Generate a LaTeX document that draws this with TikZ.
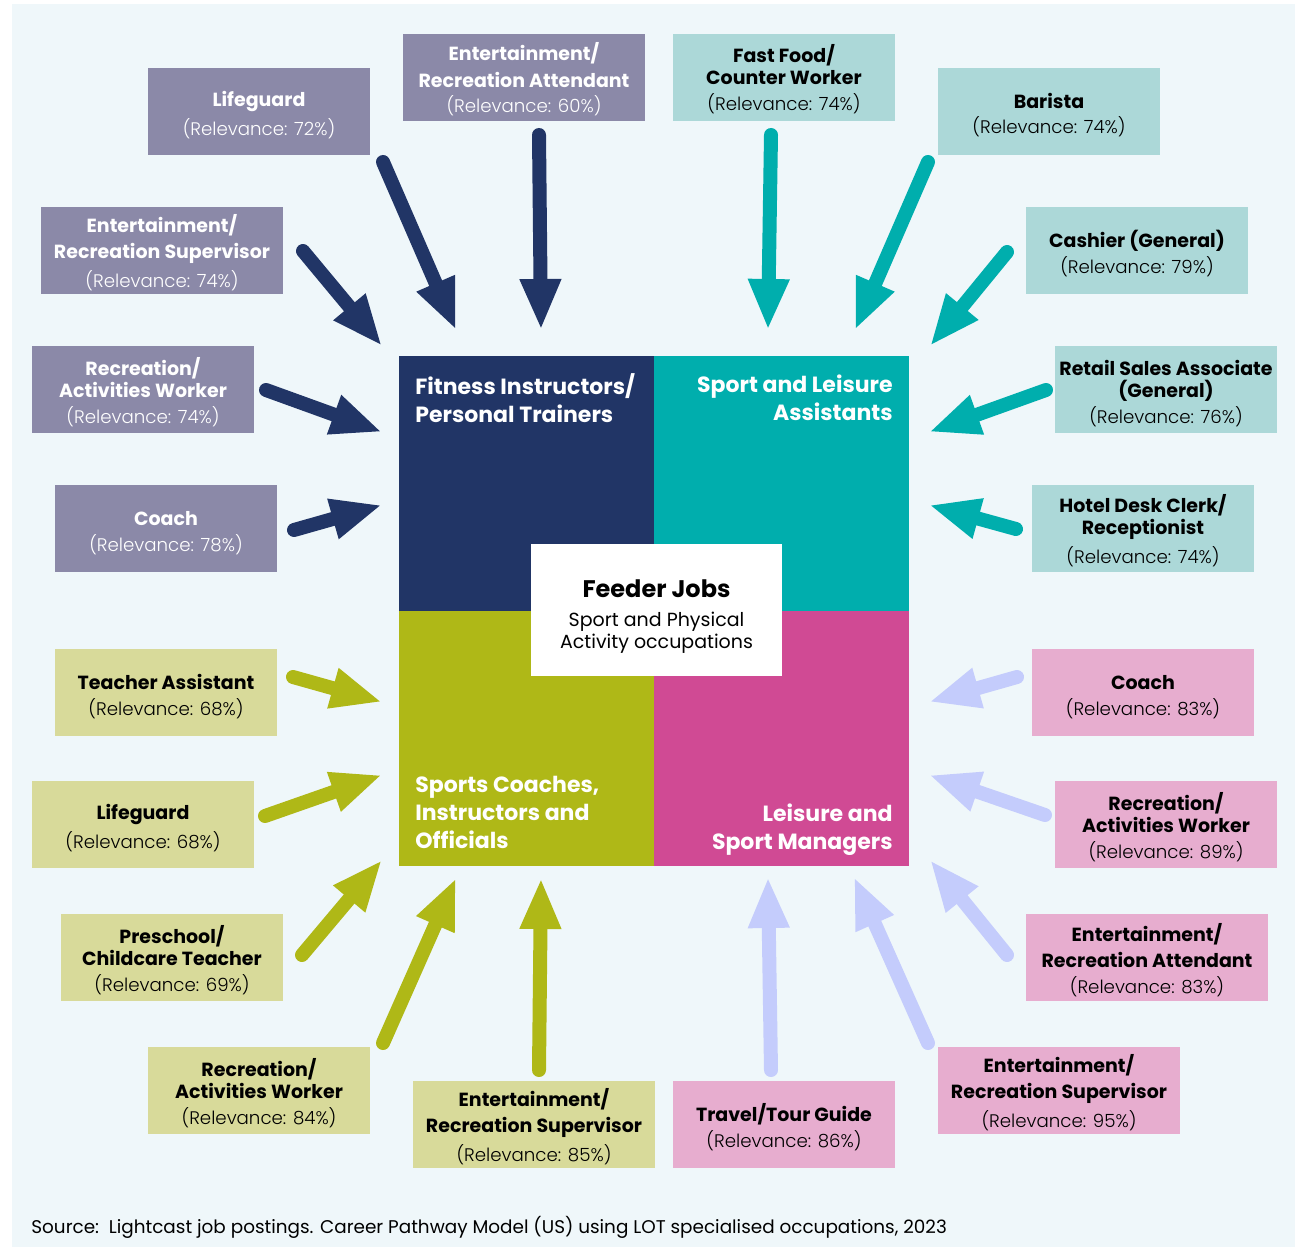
\documentclass[tikz,border=0pt]{standalone}
\usepackage{fontspec}
\setmainfont{Poppins}
\newfontfamily\poplight{Poppins Light}
\usepackage{tikz}
\usetikzlibrary{arrows.meta}
\definecolor{pagebg}{HTML}{EFF7FA}
\definecolor{fitdark}{HTML}{213566}
\definecolor{sptdark}{HTML}{00AEAD}
\definecolor{coadark}{HTML}{AFB817}
\definecolor{mgrdark}{HTML}{D04A94}
\definecolor{fitbg}{HTML}{8B89A8}
\definecolor{sptbg}{HTML}{ACD8D8}
\definecolor{coabg}{HTML}{D8DA9A}
\definecolor{mgrbg}{HTML}{E7ADCF}
\definecolor{mgrarrow}{HTML}{C4CCFC}
% first bold line of a job box, and its relevance line
\newcommand{\jobtitle}[1]{\rule{0pt}{9.5pt}\bfseries #1}
\newcommand{\relline}[1]{\\[2pt]{\poplight\fontsize{9.1}{11}\selectfont (Relevance: #1\%)}}
\tikzset{
  jobbox/.style={minimum width=111pt, minimum height=43.5pt, inner sep=0pt, text depth=0pt, align=center, font=\fontsize{9.5}{11}\selectfont},
  widebox/.style={minimum width=121pt},
  fitbox/.style={jobbox, fill=fitbg, text=white},
  sptbox/.style={jobbox, fill=sptbg},
  coabox/.style={jobbox, fill=coabg},
  mgrbox/.style={jobbox, fill=mgrbg},
  feedarrow/.style={line width=7pt, line cap=round, -{Triangle[length=25.5pt, width=19pt]}},
  quadtext/.style={text=white, inner sep=0pt, font=\bfseries\fontsize{11}{14}\selectfont}
}

\begin{document}
\begin{tikzpicture}[x=0.5pt, y=-0.5pt]
  \useasboundingbox (0,0) rectangle (1303,1247);
  \fill[pagebg] (12,4) rectangle (1295,1247);

  % the four occupation groups
  \fill[fitdark] (399,356) rectangle (654,611);
  \fill[sptdark] (654,356) rectangle (909,611);
  \fill[coadark] (399,611) rectangle (654,866);
  \fill[mgrdark] (654,611) rectangle (909,866);
  \node[quadtext, anchor=north west, align=left] (fitname) at (415,373) {Fitness Instructors/\\Personal Trainers};
  \node[quadtext, anchor=north east, align=right] (sptname) at (893,374) {Sport and Leisure\\Assistants};
  \node[quadtext, anchor=south west, align=left] (coaname) at (415,849) {Sports Coaches,\\Instructors and\\Officials};
  \node[quadtext, anchor=south east, align=right] (mgrname) at (893,856) {Leisure and\\Sport Managers};
  \node[fill=white, minimum width=125.5pt, minimum height=66pt, inner sep=0pt, text depth=0pt, align=center, font=\fontsize{9.5}{11}\selectfont] (feeder) at (656.5,610)
    {\rule{0pt}{13pt}{\bfseries\fontsize{12}{14}\selectfont Feeder Jobs}\\[3.5pt]Sport and Physical\\Activity occupations};

  % feeder jobs
  \node[fitbox] (fit1) at (259,111.5) {\jobtitle{Lifeguard}\relline{72}};
  \node[fitbox, widebox] (fit2) at (524,77.5) {\jobtitle{Entertainment/}\\[2pt]{\bfseries Recreation Attendant}\relline{60}};
  \node[fitbox, widebox] (fit3) at (162,250.5) {\jobtitle{Entertainment/}\\[2pt]{\bfseries Recreation Supervisor}\relline{74}};
  \node[fitbox] (fit4) at (143,389.5) {\jobtitle{Recreation/}\\{\bfseries Activities Worker}\relline{74}};
  \node[fitbox] (fit5) at (166,528.5) {\jobtitle{Coach}\relline{78}};

  \node[sptbox] (spt1) at (784,77.5) {\jobtitle{Fast Food/}\\{\bfseries Counter Worker}\relline{74}};
  \node[sptbox] (spt2) at (1049,111.5) {\jobtitle{Barista}\relline{74}};
  \node[sptbox] (spt3) at (1137,250.5) {\jobtitle{Cashier (General)}\relline{79}};
  \node[sptbox] (spt4) at (1166,389.5) {\jobtitle{Retail Sales Associate}\\{\bfseries (General)}\relline{76}};
  \node[sptbox] (spt5) at (1143,528.5) {\jobtitle{Hotel Desk Clerk/}\\{\bfseries Receptionist}\relline{74}};

  \node[coabox] (coa1) at (166,692.5) {\jobtitle{Teacher Assistant}\relline{68}};
  \node[coabox] (coa2) at (143,824.5) {\jobtitle{Lifeguard}\relline{68}};
  \node[coabox] (coa3) at (172,957.5) {\jobtitle{Preschool/}\\{\bfseries Childcare Teacher}\relline{69}};
  \node[coabox] (coa4) at (259,1090.5) {\jobtitle{Recreation/}\\{\bfseries Activities Worker}\relline{84}};
  \node[coabox, widebox] (coa5) at (534,1124.5) {\jobtitle{Entertainment/}\\[2pt]{\bfseries Recreation Supervisor}\relline{85}};

  \node[mgrbox] (mgr1) at (1143,692.5) {\jobtitle{Coach}\relline{83}};
  \node[mgrbox] (mgr2) at (1166,824.5) {\jobtitle{Recreation/}\\{\bfseries Activities Worker}\relline{89}};
  \node[mgrbox, widebox] (mgr3) at (1147,957.5) {\jobtitle{Entertainment/}\\[2pt]{\bfseries Recreation Attendant}\relline{83}};
  \node[mgrbox, widebox] (mgr4) at (1059,1090.5) {\jobtitle{Entertainment/}\\[2pt]{\bfseries Recreation Supervisor}\relline{95}};
  \node[mgrbox] (mgr5) at (784,1124.5) {\jobtitle{Travel/Tour Guide}\relline{86}};

  % arrow ends
  \coordinate (fit1a) at (383,162);  \coordinate (fit1b) at (456,330);
  \coordinate (fit2a) at (539,135);  \coordinate (fit2b) at (541,330);
  \coordinate (fit3a) at (303,251);  \coordinate (fit3b) at (382,346);
  \coordinate (fit4a) at (266,390);  \coordinate (fit4b) at (382,432);
  \coordinate (fit5a) at (294,530);  \coordinate (fit5b) at (382,505);
  \coordinate (spt1a) at (771,135);  \coordinate (spt1b) at (768,330);
  \coordinate (spt2a) at (928,162);  \coordinate (spt2b) at (855,330);
  \coordinate (spt3a) at (1007,252); \coordinate (spt3b) at (930,346);
  \coordinate (spt4a) at (1046,390); \coordinate (spt4b) at (929,432);
  \coordinate (spt5a) at (1016,529); \coordinate (spt5b) at (929,505);
  \coordinate (coa1a) at (293,677);  \coordinate (coa1b) at (382,702);
  \coordinate (coa2a) at (265,816);  \coordinate (coa2b) at (382,775);
  \coordinate (coa3a) at (302,955);  \coordinate (coa3b) at (382,860);
  \coordinate (coa4a) at (383,1043); \coordinate (coa4b) at (456,878);
  \coordinate (coa5a) at (539,1070); \coordinate (coa5b) at (541,878);
  \coordinate (mgr1a) at (1017,677); \coordinate (mgr1b) at (929,702);
  \coordinate (mgr2a) at (1045,815); \coordinate (mgr2b) at (929,775);
  \coordinate (mgr3a) at (1007,955); \coordinate (mgr3b) at (930,860);
  \coordinate (mgr4a) at (928,1043); \coordinate (mgr4b) at (854,877);
  \coordinate (mgr5a) at (771,1070); \coordinate (mgr5b) at (768,877);

  \draw[feedarrow, fitdark] (fit1a) -- (fit1b);
  \draw[feedarrow, fitdark] (fit2a) -- (fit2b);
  \draw[feedarrow, fitdark] (fit3a) -- (fit3b);
  \draw[feedarrow, fitdark] (fit4a) -- (fit4b);
  \draw[feedarrow, fitdark] (fit5a) -- (fit5b);
  \draw[feedarrow, sptdark] (spt1a) -- (spt1b);
  \draw[feedarrow, sptdark] (spt2a) -- (spt2b);
  \draw[feedarrow, sptdark] (spt3a) -- (spt3b);
  \draw[feedarrow, sptdark] (spt4a) -- (spt4b);
  \draw[feedarrow, sptdark] (spt5a) -- (spt5b);
  \draw[feedarrow, coadark] (coa1a) -- (coa1b);
  \draw[feedarrow, coadark] (coa2a) -- (coa2b);
  \draw[feedarrow, coadark] (coa3a) -- (coa3b);
  \draw[feedarrow, coadark] (coa4a) -- (coa4b);
  \draw[feedarrow, coadark] (coa5a) -- (coa5b);
  \draw[feedarrow, mgrarrow] (mgr1a) -- (mgr1b);
  \draw[feedarrow, mgrarrow] (mgr2a) -- (mgr2b);
  \draw[feedarrow, mgrarrow] (mgr3a) -- (mgr3b);
  \draw[feedarrow, mgrarrow] (mgr4a) -- (mgr4b);
  \draw[feedarrow, mgrarrow] (mgr5a) -- (mgr5b);

  \node[anchor=base west, inner sep=0pt, font=\fontsize{9.2}{11}\selectfont] (source) at (31,1233)
    {Source:\ \ Lightcast job postings. Career Pathway Model (US) using LOT specialised occupations, 2023};
\end{tikzpicture}
\end{document}
